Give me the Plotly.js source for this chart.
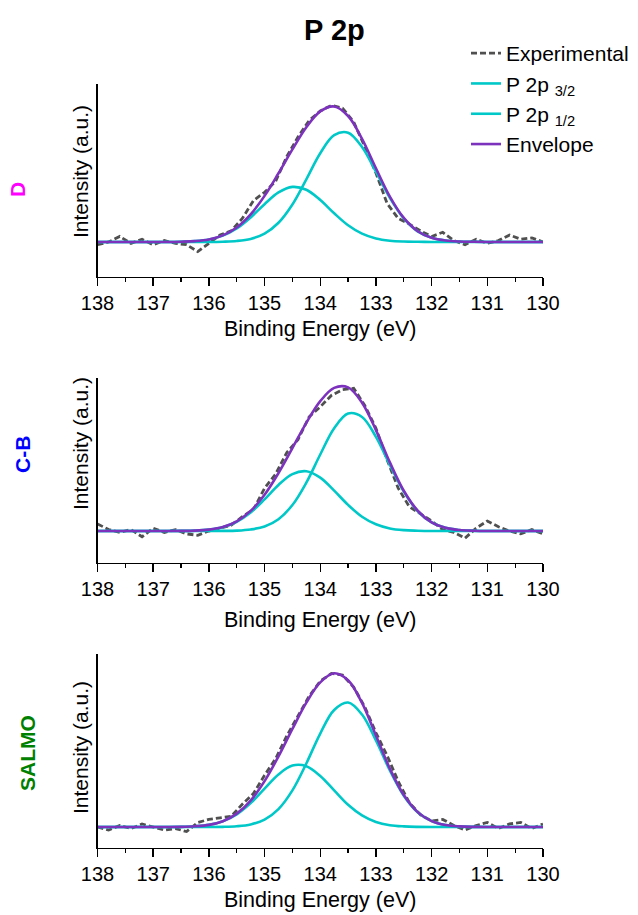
<!DOCTYPE html>
<html>
<head>
<meta charset="utf-8">
<script src="https://cdn.plot.ly/plotly-3.0.1.min.js"></script>
<style>html,body{margin:0;padding:0;background:#fff;}#chart{width:638px;height:915px;}</style>
</head>
<body>
<div id="chart"></div>
<script>
// Energy grids (eV)
const fitEnergy = [138,137.75,137.5,137.25,137,136.75,136.5,136.25,136,135.75,135.5,135.25,135,134.75,134.5,134.25,134,133.75,133.5,133.25,133,132.75,132.5,132.25,132,131.75,131.5,131.25,131,130.75,130.5,130.25,130];
const expEnergy = [138,137.8,137.6,137.4,137.2,137,136.8,136.6,136.4,136.2,136,135.8,135.6,135.4,135.2,135,134.8,134.6,134.4,134.2,134,133.8,133.6,133.4,133.2,133,132.8,132.6,132.4,132.2,132,131.8,131.6,131.4,131.2,131,130.8,130.6,130.4,130.2,130];

// Sample labels
const samples = ['D','C-B','SALMO'];
const sampleColors = ['#FF00FF','#0000FF','#008000'];

// Panel D
const expD = [-0.02,0.00,0.04,-0.01,0.02,-0.02,0.01,-0.01,-0.02,-0.07,-0.01,0.05,0.08,0.17,0.30,0.36,0.44,0.62,0.76,0.88,0.95,0.99,0.97,0.87,0.69,0.50,0.28,0.17,0.13,0.08,0.04,0.07,0.01,-0.02,0.02,-0.01,0.01,0.05,0.02,0.03,0.00];
const p32D = [0,0,0,0,0,0,0,0,0,0.002,0.007,0.022,0.060,0.139,0.272,0.454,0.643,0.774,0.792,0.688,0.509,0.320,0.171,0.077,0.030,0.010,0.003,0.001,0,0,0,0,0];
const p12D = [0,0,0,0,0,0,0.002,0.006,0.018,0.046,0.098,0.178,0.274,0.359,0.399,0.378,0.304,0.208,0.121,0.060,0.025,0.009,0.003,0.001,0,0,0,0,0,0,0,0,0];
const envD = [0,0,0,0,0,0,0.002,0.006,0.018,0.048,0.105,0.200,0.334,0.498,0.671,0.832,0.947,0.982,0.913,0.748,0.534,0.329,0.174,0.078,0.030,0.010,0.003,0.001,0,0,0,0,0];

// Panel C-B
const expCB = [0.05,0.01,-0.01,0.01,-0.04,0.02,-0.01,0.01,-0.02,-0.03,0.00,0.02,0.04,0.10,0.15,0.30,0.40,0.55,0.64,0.80,0.87,0.95,0.99,1.00,0.88,0.72,0.50,0.30,0.17,0.12,0.07,0.01,-0.01,-0.05,0.02,0.07,0.03,0.00,-0.02,0.01,-0.02];
const p32CB = [0,0,0,0,0,0,0,0,0,0.001,0.003,0.011,0.032,0.083,0.182,0.339,0.536,0.720,0.823,0.799,0.660,0.463,0.276,0.140,0.060,0.022,0.007,0.002,0,0,0,0,0];
const p12CB = [0,0,0,0,0,0,0.001,0.003,0.010,0.027,0.065,0.130,0.222,0.323,0.399,0.419,0.374,0.283,0.183,0.100,0.047,0.018,0.006,0.002,0,0,0,0,0,0,0,0,0];
const envCB = [0,0,0,0,0,0,0.001,0.003,0.010,0.028,0.068,0.141,0.254,0.406,0.581,0.758,0.910,1.003,1.006,0.899,0.707,0.481,0.282,0.142,0.060,0.022,0.007,0.002,0,0,0,0,0];

// Panel SALMO
const expS = [0.00,-0.02,0.01,-0.01,0.02,0.00,-0.02,-0.01,-0.03,0.03,0.05,0.06,0.07,0.15,0.22,0.34,0.45,0.60,0.73,0.86,0.96,1.01,1.00,0.92,0.79,0.62,0.47,0.30,0.16,0.08,0.04,0.05,0.01,-0.02,0.01,0.03,-0.01,0.02,0.03,-0.01,0.02];
const p32S = [0,0,0,0,0,0,0,0,0,0.001,0.005,0.017,0.049,0.118,0.241,0.418,0.615,0.770,0.819,0.740,0.569,0.372,0.206,0.097,0.039,0.013,0.004,0.001,0,0,0,0,0];
const p12S = [0,0,0,0,0,0,0.001,0.005,0.014,0.037,0.083,0.157,0.253,0.346,0.404,0.400,0.336,0.241,0.146,0.076,0.033,0.012,0.004,0.001,0,0,0,0,0,0,0,0,0];
const envS = [0,0,0,0,0,0,0.001,0.005,0.014,0.038,0.088,0.174,0.302,0.464,0.645,0.818,0.951,1.011,0.965,0.816,0.602,0.384,0.210,0.098,0.039,0.013,0.004,0.001,0,0,0,0,0];

const expAll = [expD, expCB, expS];
const p32All = [p32D, p32CB, p32S];
const p12All = [p12D, p12CB, p12S];
const envAll = [envD, envCB, envS];
const yRanges = [[-0.254,1.145],[-0.224,1.072],[-0.138,1.138]];

// layout geometry (pixels)
const W = 638, H = 915;
const plotLeft = 97.5, plotRight = 543;
const panelTop = [84, 378, 654];
const panelBottom = [277, 563, 848];

const cExp = '#505050', cComp = '#00C8C8', cEnv = '#7D32BE';
const traces = [];
const layout = {
  width: W, height: H,
  margin: {l:0, r:0, t:0, b:0},
  paper_bgcolor: '#ffffff', plot_bgcolor: '#ffffff',
  font: {family: 'Arial, "Liberation Sans", sans-serif', color: '#000'},
  showlegend: true,
  legend: {x: 466/W, y: 1-33/H, xanchor: 'left', yanchor: 'top', font: {size: 21, color:'#000'}, bgcolor: 'rgba(0,0,0,0)', tracegroupgap: 0},
  annotations: [],
};

for (let i = 0; i < 3; i++) {
  const xa = i === 0 ? 'x' : 'x' + (i+1);
  const ya = i === 0 ? 'y' : 'y' + (i+1);
  const first = i === 0;
  traces.push({x: expEnergy, y: expAll[i], xaxis: xa, yaxis: ya, type: 'scatter', mode: 'lines', name: 'Experimental', showlegend: first,
    line: {color: cExp, width: 2.8, dash: '6px,3px'}});
  traces.push({x: fitEnergy, y: p32All[i], xaxis: xa, yaxis: ya, type: 'scatter', mode: 'lines', name: 'P 2p <sub>3/2</sub>', showlegend: first,
    line: {color: cComp, width: 2.6, shape: 'spline', smoothing: 1}});
  traces.push({x: fitEnergy, y: p12All[i], xaxis: xa, yaxis: ya, type: 'scatter', mode: 'lines', name: 'P 2p <sub>1/2</sub>', showlegend: first,
    line: {color: cComp, width: 2.6, shape: 'spline', smoothing: 1}});
  traces.push({x: fitEnergy, y: envAll[i], xaxis: xa, yaxis: ya, type: 'scatter', mode: 'lines', name: 'Envelope', showlegend: first,
    line: {color: cEnv, width: 2.6, shape: 'spline', smoothing: 1}});

  const xKey = i === 0 ? 'xaxis' : 'xaxis' + (i+1);
  const yKey = i === 0 ? 'yaxis' : 'yaxis' + (i+1);
  layout[xKey] = {
    domain: [plotLeft/W, plotRight/W], anchor: ya,
    range: [138, 130], tick0: 130, dtick: 1,
    showline: true, linecolor: '#000', linewidth: 1.4, mirror: false,
    showgrid: false, zeroline: false,
    ticks: 'outside', ticklen: 8, tickwidth: 1.4, tickcolor: '#000',
    minor: {ticks: 'outside', ticklen: 4, tickwidth: 1.2, tickcolor: '#000', dtick: 0.5, showgrid: false},
    tickfont: {size: 20, color: '#000'},
  };
  layout[yKey] = {
    domain: [1 - panelBottom[i]/H, 1 - panelTop[i]/H], anchor: xa,
    range: yRanges[i],
    showline: true, linecolor: '#000', linewidth: 1.4,
    showgrid: false, zeroline: false, ticks: '', showticklabels: false,
  };
}

// axis titles and sample labels as annotations
const yTitleCenters = [171, 443, 747];
const xTitleCenters = [329, 620, 900];
const sampleX = [17, 22, 27];
const sampleY = [190, 455, 753];
for (let i = 0; i < 3; i++) {
  layout.annotations.push({xref:'paper', yref:'paper', x: 80/W, y: 1 - yTitleCenters[i]/H, text: 'Intensity (a.u.)', textangle: -90,
    showarrow: false, xanchor: 'center', yanchor: 'middle', font: {size: 21, color: '#000'}});
  layout.annotations.push({xref:'paper', yref:'paper', x: (plotLeft+plotRight)/2/W, y: 1 - xTitleCenters[i]/H, text: 'Binding Energy (eV)',
    showarrow: false, xanchor: 'center', yanchor: 'middle', font: {size: 21.5, color: '#000'}});
  layout.annotations.push({xref:'paper', yref:'paper', x: sampleX[i]/W, y: 1 - sampleY[i]/H, text: '<b>' + samples[i] + '</b>', textangle: -90,
    showarrow: false, xanchor: 'center', yanchor: 'middle', font: {size: 21, color: sampleColors[i]}});
}
layout.annotations.push({xref:'paper', yref:'paper', x: 334/W, y: 1 - 30/H, text: '<b>P 2p</b>', showarrow: false,
  xanchor: 'center', yanchor: 'middle', font: {size: 29, color: '#000'}});

Plotly.newPlot('chart', traces, layout, {staticPlot: true, displayModeBar: false});
</script>
</body>
</html>
